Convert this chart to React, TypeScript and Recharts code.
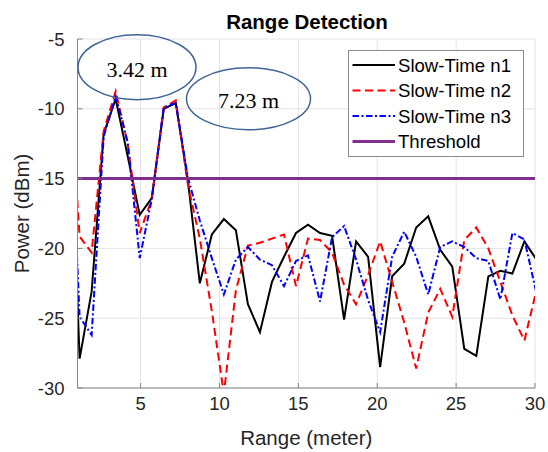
import React from 'react';
import {
  LineChart,
  Line,
  XAxis,
  YAxis,
  CartesianGrid,
  ReferenceLine,
  ReferenceDot,
  Legend,
  Label,
} from 'recharts';

// Range bins (meter)
const rangeBins = [
  0.372, 1.134, 1.896, 2.658, 3.42, 4.182, 4.944, 5.706, 6.468, 7.23,
  7.992, 8.754, 9.516, 10.278, 11.04, 11.802, 12.564, 13.326, 14.088, 14.85,
  15.612, 16.374, 17.136, 17.898, 18.66, 19.422, 20.184, 20.946, 21.708, 22.47,
  23.232, 23.994, 24.756, 25.518, 26.28, 27.042, 27.804, 28.566, 29.328, 30.09,
];

// Power (dBm) per slow-time snapshot
const slowTimeN1 = [
  -4.6, -27.9, -23.1, -11.8, -9.3, -13.4, -17.6, -16.4, -10.0, -9.6,
  -15.1, -22.5, -19.0, -17.9, -18.7, -24.0, -26.0, -22.4, -20.6, -18.9,
  -18.3, -18.9, -19.1, -25.1, -19.5, -20.6, -28.5, -22.0, -21.1, -18.5,
  -17.7, -20.1, -21.3, -27.2, -27.7, -22.0, -21.6, -21.8, -19.5, -20.8,
];
const slowTimeN2 = [
  -5.8, -19.15, -20.3, -11.6, -8.75, -12.5, -18.9, -16.5, -9.9, -9.4,
  -15.4, -19.3, -24.5, -30.4, -23.0, -19.8, -19.6, -19.3, -19.0, -22.7,
  -19.3, -19.4, -20.3, -22.6, -24.0, -21.9, -19.5, -22.4, -25.3, -28.6,
  -24.6, -22.9, -24.9, -19.4, -18.5, -20.0, -22.4, -24.8, -26.6, -23.0,
];
const slowTimeN3 = [
  -5.0, -24.9, -26.2, -12.0, -9.1, -12.4, -20.7, -16.5, -9.9, -9.6,
  -14.9, -18.0, -20.7, -23.3, -20.8, -19.9, -20.8, -21.2, -22.7, -20.9,
  -20.5, -23.8, -19.2, -18.4, -20.8, -23.7, -26.0, -20.6, -18.8, -20.6,
  -23.3, -19.9, -19.5, -19.9, -20.7, -20.9, -23.65, -18.9, -19.35, -23.2,
];
const thresholdDbm = -15;

const xTicks = [5, 10, 15, 20, 25, 30];
const yTicks = [-30, -25, -20, -15, -10, -5];

const annotations = [
  { label: '3.42 m', range: 4.77, power: -7.02, rx: 59, ry: 32.5 },
  { label: '7.23 m', range: 11.84, power: -9.28, rx: 62, ry: 31 },
];

const series = [
  { key: 'n1', name: 'Slow-Time n1', color: '#000000', dash: undefined as string | undefined, width: 2 },
  { key: 'n2', name: 'Slow-Time n2', color: '#ff0000', dash: '8 4.5', width: 2 },
  { key: 'n3', name: 'Slow-Time n3', color: '#0000ff', dash: '6.5 2.5 2 2.5', width: 2 },
];
const thresholdStyle = { name: 'Threshold', color: '#7e2f8e', width: 3 };

const data = rangeBins.map((r, i) => ({
  r,
  n1: slowTimeN1[i],
  n2: slowTimeN2[i],
  n3: slowTimeN3[i],
}));

const FONT = '"Liberation Sans", Arial, Helvetica, sans-serif';
const AXIS_COLOR = '#858585';
const TEXT_COLOR = '#262626';

const legendRows = [
  ...series.map((s) => ({ name: s.name, color: s.color, dash: s.dash, width: s.width })),
  { name: thresholdStyle.name, color: thresholdStyle.color, dash: undefined as string | undefined, width: thresholdStyle.width },
];

function LegendBox() {
  const w = 176;
  const h = 107;
  return (
    <svg width={w} height={h} style={{ display: 'block' }}>
      <rect x={0.5} y={0.5} width={w - 1} height={h - 1} fill="#ffffff" stroke="#8a8a8a" strokeWidth={1} />
      {legendRows.map((row, i) => {
        const cy = 15 + i * 25.5;
        return (
          <g key={row.name}>
            <line
              x1={4.5}
              x2={47}
              y1={cy}
              y2={cy}
              stroke={row.color}
              strokeWidth={row.width}
              strokeDasharray={row.dash}
            />
            <text
              x={50}
              y={cy}
              dominantBaseline="central"
              fontFamily={FONT}
              fontSize={18.6}
              fill="#000000"
            >
              {row.name}
            </text>
          </g>
        );
      })}
    </svg>
  );
}

function EllipseNote(props: any) {
  const { cx, cy, label, rx, ry } = props;
  if (cx == null || cy == null) return null;
  return (
    <g>
      <ellipse cx={cx} cy={cy} rx={rx} ry={ry} fill="none" stroke="#3f6595" strokeWidth={1.5} />
      <text
        x={cx}
        y={cy + 2}
        textAnchor="middle"
        dominantBaseline="central"
        fontFamily='"Liberation Serif", "Times New Roman", serif'
        fontSize={22}
        fill="#000000"
      >
        {label}
      </text>
    </g>
  );
}

export default function App() {
  return (
    <div style={{ position: 'absolute', left: 0, top: 0, width: 548, height: 452, background: '#ffffff' }}>
      <svg
        width={548}
        height={40}
        style={{ position: 'absolute', left: 0, top: 0, zIndex: 2, pointerEvents: 'none' }}
      >
        <text
          x={307}
          y={29}
          textAnchor="middle"
          fontFamily={FONT}
          fontWeight="bold"
          fontSize={20.5}
          fill="#000000"
        >
          Range Detection
        </text>
      </svg>
      <LineChart
        width={548}
        height={452}
        data={data}
        margin={{ top: 39, right: 13, bottom: 0, left: 0 }}
        style={{ fontFamily: FONT }}
      >
        <CartesianGrid stroke="#e3e3e3" strokeWidth={1} />
        <XAxis
          dataKey="r"
          type="number"
          domain={[1, 30]}
          allowDataOverflow
          ticks={xTicks}
          height={64}
          tickSize={-5}
          tickMargin={14}
          stroke={AXIS_COLOR}
          axisLine={{ stroke: AXIS_COLOR, strokeWidth: 1 }}
          tickLine={{ stroke: AXIS_COLOR }}
          tick={{ fontSize: 18.5, fill: TEXT_COLOR, fontFamily: FONT }}
        >
          <Label
            value="Range (meter)"
            position="insideBottom"
            offset={7}
            style={{ fontSize: 20.5, fill: TEXT_COLOR, fontFamily: FONT }}
          />
        </XAxis>
        <XAxis
          xAxisId="top"
          dataKey="r"
          type="number"
          orientation="top"
          domain={[1, 30]}
          allowDataOverflow
          ticks={xTicks}
          height={0}
          tickSize={-5}
          tick={false}
          axisLine={{ stroke: AXIS_COLOR, strokeWidth: 1 }}
          tickLine={{ stroke: AXIS_COLOR }}
        />
        <YAxis
          type="number"
          domain={[-30, -5]}
          allowDataOverflow
          ticks={yTicks}
          width={77.5}
          tickSize={-5}
          tickMargin={18}
          axisLine={{ stroke: AXIS_COLOR, strokeWidth: 1 }}
          tickLine={{ stroke: AXIS_COLOR }}
          tick={{ fontSize: 18.5, fill: TEXT_COLOR, fontFamily: FONT }}
        >
          <Label
            value="Power (dBm)"
            angle={-90}
            position="insideLeft"
            offset={22}
            style={{ fontSize: 20.5, fill: TEXT_COLOR, fontFamily: FONT, textAnchor: 'middle' }}
          />
        </YAxis>
        <YAxis
          yAxisId="right"
          type="number"
          orientation="right"
          domain={[-30, -5]}
          allowDataOverflow
          ticks={yTicks}
          width={0}
          tickSize={-5}
          tick={false}
          axisLine={{ stroke: AXIS_COLOR, strokeWidth: 1 }}
          tickLine={{ stroke: AXIS_COLOR }}
        />
        {series.map((s) => (
          <Line
            key={s.key}
            type="linear"
            dataKey={s.key}
            name={s.name}
            stroke={s.color}
            strokeWidth={s.width}
            strokeDasharray={s.dash}
            dot={false}
            activeDot={false}
            isAnimationActive={false}
          />
        ))}
        <ReferenceLine
          y={thresholdDbm}
          stroke={thresholdStyle.color}
          strokeWidth={thresholdStyle.width}
          ifOverflow="hidden"
        />
        {annotations.map((a) => (
          <ReferenceDot
            key={a.label}
            x={a.range}
            y={a.power}
            r={1}
            ifOverflow="visible"
            shape={(p: any) => <EllipseNote {...p} label={a.label} rx={a.rx} ry={a.ry} />}
          />
        ))}
        <Legend
          layout="horizontal"
          verticalAlign="middle"
          align="center"
          content={() => <LegendBox />}
          wrapperStyle={{ position: 'absolute', left: 348, top: 50, width: 176, height: 107 }}
        />
      </LineChart>
    </div>
  );
}
